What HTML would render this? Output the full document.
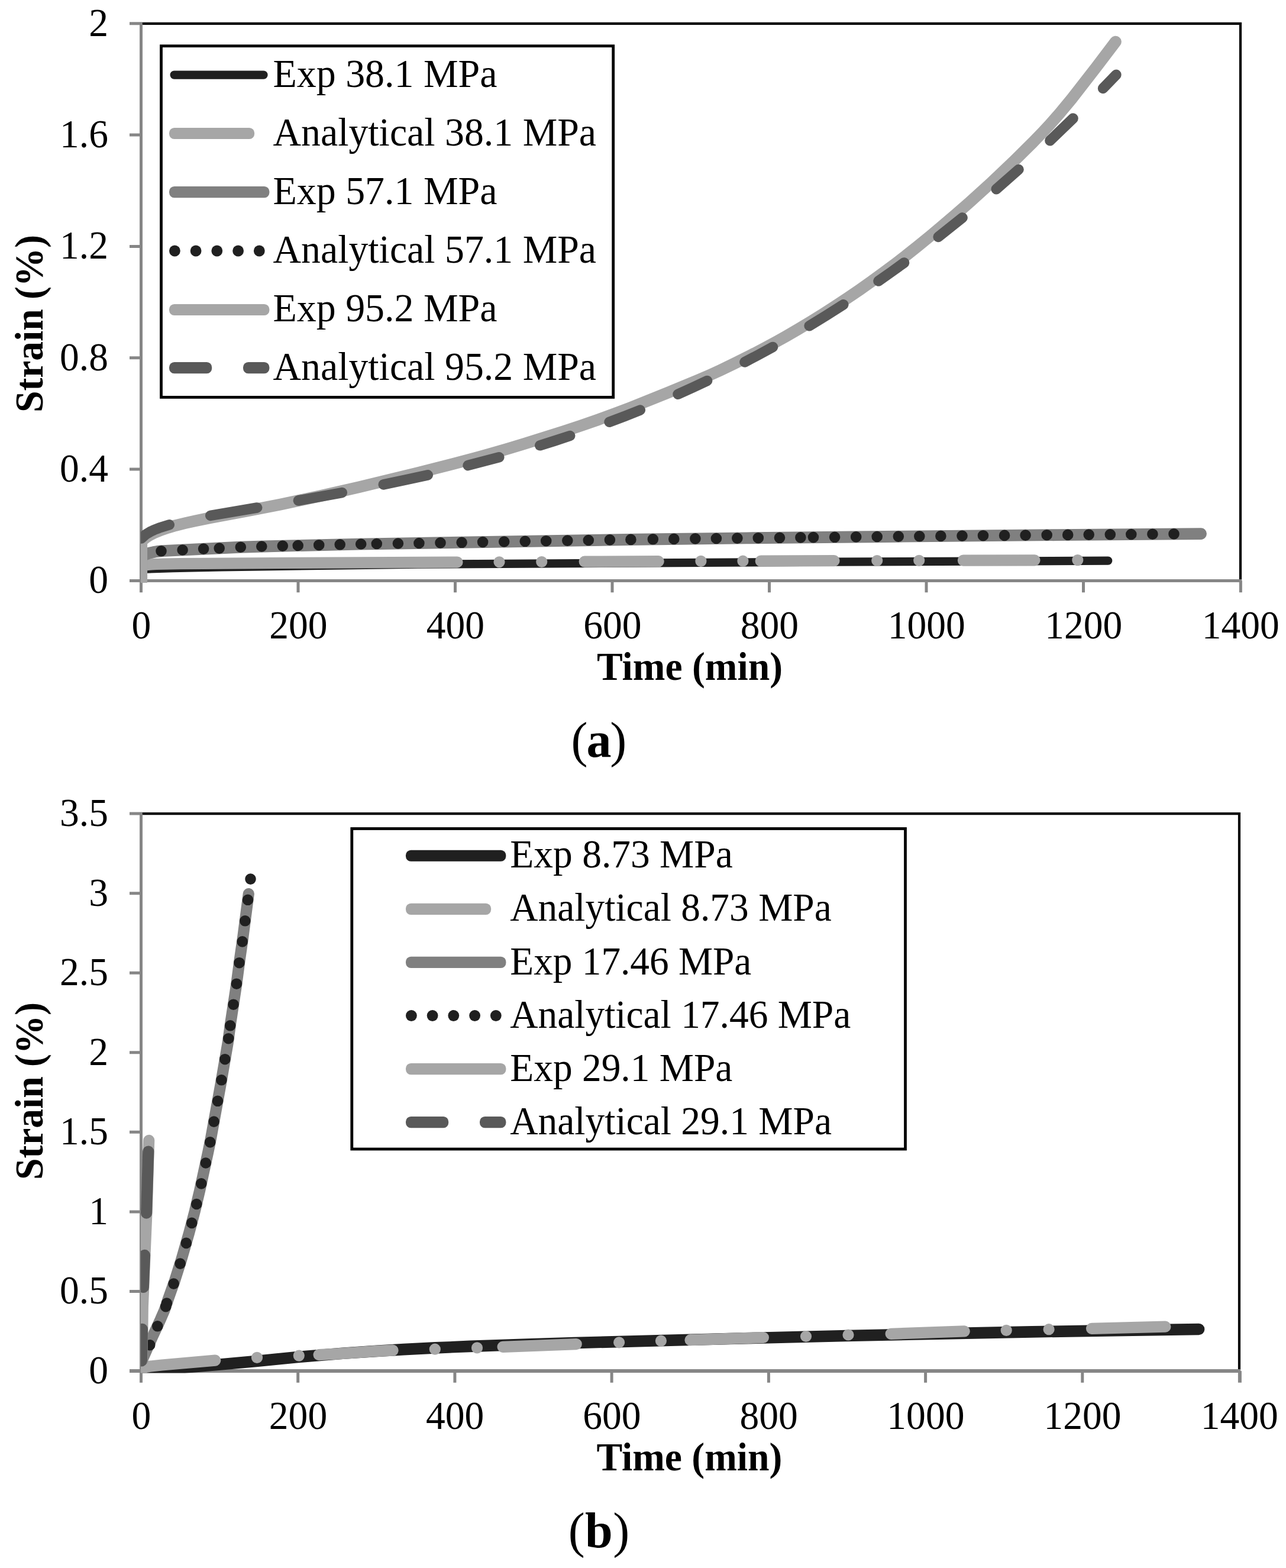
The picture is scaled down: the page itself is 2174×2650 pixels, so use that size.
<!DOCTYPE html>
<html lang="en"><head><meta charset="utf-8"><title>Creep strain vs time: experimental and analytical</title>
<style>html,body{margin:0;padding:0;background:#fff}svg{display:block}</style></head><body>
<svg width="2174" height="2650" viewBox="0 0 2174 2650" font-family="'Liberation Serif', serif" font-size="66.67" fill="#000">
<rect width="2174" height="2650" fill="#fff"/>
<defs>
<clipPath id="ca"><rect x="238" y="36.8" width="1861.5" height="948.1"/></clipPath>
<clipPath id="cb"><rect x="238" y="1372.1" width="1859.5" height="948.3"/></clipPath>
</defs>
<path d="M219 981.5 H2099.3" stroke="#868686" stroke-width="4.8" fill="none"/>
<path d="M238.5 37.2 V1001.2 M219 793.1 H238.5 M219 604.8 H238.5 M219 416.4 H238.5 M219 228.1 H238.5 M219 39.8 H238.5 M504 981.5 V1001.2 M769.5 981.5 V1001.2 M1035 981.5 V1001.2 M1300.5 981.5 V1001.2 M1566 981.5 V1001.2 M1831.5 981.5 V1001.2" stroke="#868686" stroke-width="5" fill="none"/>
<path d="M2097.4 981.5 V1001.2" stroke="#868686" stroke-width="5" fill="none"/>
<path d="M240.9 39.9 H2097 V979.1" stroke="#000" stroke-width="4.2" fill="none" stroke-linejoin="miter"/>
<g clip-path="url(#ca)" fill="none" stroke-linecap="round" stroke-linejoin="round">
<path d="M239.2 961.9 L292.4 960.1 L374.3 958.3 L636.4 954.5 L706 953.7 L1398.1 949.6 L1873.2 947.7" stroke="#202020" stroke-width="14.3"/>
<path d="M239.3 981.5 L239.3 955.6 L243.4 955.1 M239.3 955.6 L255.8 953.9 L264 953.4 L305.3 952.7 L499.1 951.4 L773 950.1 M988.2 949.2 L1113.2 948.7 M1286.2 948.1 L1410 947.7 M1628.4 947.1 L1749 946.8" stroke="#a6a6a6" stroke-width="19.2"/>
<path d="M844 949.8 L844 949.8 M915.7 949.5 L915.7 949.5 M1184.9 948.4 L1184.9 948.4 M1255.9 948.2 L1255.9 948.2 M1482.7 947.5 L1482.7 947.5 M1553.7 947.3 L1553.7 947.3 M1821.8 946.6 L1821.8 946.6" stroke="#a6a6a6" stroke-width="19.2"/>
<path d="M238.9 981.5 L238.9 941.4 L243.4 938.5 L247.9 936.2 L252.4 934.8 L261.3 932.8 L265.8 932 L274.8 931.1 L405 924.8 L454.4 923.2 L607 919.6 L1073.8 911.8 L1262.4 909.4 L1518.2 906.7 L1787.6 904.1 L2030 902.1" stroke="#808080" stroke-width="19.9"/>
<path d="M272.5 931.3 L272.5 931.3 M308.6 929.5 L308.6 929.5 M344.1 927.6 L344.1 927.6 M370.7 926.6 L370.7 926.6 M406.8 924.7 L406.8 924.7 M442.3 923.5 L442.3 923.5 M477.8 922.6 L477.8 922.6 M503.7 922 L503.7 922 M539.2 921.2 L539.2 921.2 M574.7 920.3 L574.7 920.3 M610.2 919.5 L610.2 919.5 M636.8 919 L636.8 919 M672.9 918.5 L672.9 918.5 M708.4 918 L708.4 918 M744.5 917.4 L744.5 917.4 M780.6 916.8 L780.6 916.8 M816.1 916.1 L816.1 916.1 M852.2 915.5 L852.2 915.5 M887.7 914.8 L887.7 914.8 M923.2 914.2 L923.2 914.2 M959.3 913.6 L959.3 913.6 M994.8 913 L994.8 913 M1030.9 912.4 L1030.9 912.4 M1066.4 911.9 L1066.4 911.9 M1103.8 911.3 L1103.8 911.3 M1139.3 910.9 L1139.3 910.9 M1175.4 910.4 L1175.4 910.4 M1210.9 910 L1210.9 910 M1246.3 909.6 L1246.4 909.6 M1281.8 909.2 L1281.8 909.2 M1317.9 908.8 L1318 908.8 M1353.4 908.4 L1353.4 908.4 M1375 908.1 L1375 908.1 M1411.1 907.8 L1411.1 907.8 M1447.2 907.4 L1447.2 907.4 M1482.7 907 L1482.7 907 M1518.8 906.6 L1518.8 906.6 M1554.3 906.3 L1554.3 906.3 M1590.4 905.9 L1590.4 905.9 M1626.5 905.6 L1626.5 905.6 M1662 905.2 L1662 905.2 M1698.1 904.9 L1698.1 904.9 M1733.6 904.6 L1733.6 904.6 M1769.7 904.2 L1769.7 904.2 M1805.2 903.9 L1805.2 903.9 M1840.7 903.6 L1840.7 903.6 M1876.8 903.3 L1876.8 903.3 M1912.3 903 L1912.3 903 M1948.4 902.7 L1948.4 902.7 M1984.5 902.4 L1984.5 902.4" stroke="#202020" stroke-width="18.6"/>
<path d="M239.2 981.5 L239.2 915.2 L243.3 911.2 L247.4 908 L251.5 905.2 L259.8 900.9 L272.2 895.8 L284.6 891.7 L296.9 888.1 L313.5 884 L330 880.3 L354.7 875.2 L416.6 863.8 L474.4 852.5 L544.6 837.5 L606.5 823.3 L705.5 799.4 L767.4 783.7 L800.5 774.9 L829.4 766.9 L858.2 758.5 L887.1 749.8 L953.2 729 L982.1 719.4 L1011 709.3 L1039.8 698.8 L1064.6 689.4 L1085.2 681.3 L1130.6 663 L1180.2 642.5 L1200.8 633.5 L1217.3 625.9 L1242.1 614 L1266.8 601.7 L1291.6 588.8 L1312.2 577.6 L1328.8 568.3 L1349.4 556.4 L1370 544 L1390.7 531.1 L1411.3 517.9 L1431.9 504.3 L1452.6 490.2 L1473.2 475.6 L1493.8 460.6 L1514.5 445.1 L1535.1 429.1 L1551.6 415.9 L1572.3 399.1 L1592.9 381.8 L1613.5 364.2 L1638.3 342.6 L1675.4 309 L1712.6 273.8 L1745.6 241.1 L1762.1 224 L1774.5 210.8 L1791 192 L1811.6 167.1 L1852.9 114 L1885.9 70.6" stroke="#a6a6a6" stroke-width="19.8"/>
<path d="M238.9 909.9 L244.4 904.9 L247.2 902.8 L255.4 897.9 L260.9 895.4 L269.2 892.2 L286.2 886.9 M355.8 871.4 L434.6 858 M504.4 846 L578.2 832.6 M648.3 818.9 L687.3 810.7 L723.2 802.8 M791.1 786.6 L843.7 772.8 M912.8 752.8 L937.7 745 L963.6 736.5 M1030.1 713.2 L1056 703.4 L1082.2 693.1 M1146.1 666.2 L1171.5 654.7 L1195.5 643.5 M1259 611.9 L1281.6 600 L1306.4 586.5 M1368.2 550.7 L1397.1 533 L1425.7 514.8 M1485 475 L1507.2 459.4 L1528.5 444 M1586.2 400.4 L1627 367.9 M1684.3 319.7 L1722 286.5 M1775 237.7 L1814 200.1 M1864.6 149.4 L1886.9 126.3" stroke="#595959" stroke-width="17.6"/>
</g>
<text x="183" y="1002.4" text-anchor="end" textLength="32.8" lengthAdjust="spacingAndGlyphs">0</text>
<text x="183" y="814" text-anchor="end" textLength="81.9" lengthAdjust="spacingAndGlyphs">0.4</text>
<text x="183" y="625.7" text-anchor="end" textLength="81.9" lengthAdjust="spacingAndGlyphs">0.8</text>
<text x="183" y="437.3" text-anchor="end" textLength="81.9" lengthAdjust="spacingAndGlyphs">1.2</text>
<text x="183" y="249" text-anchor="end" textLength="81.9" lengthAdjust="spacingAndGlyphs">1.6</text>
<text x="183" y="60.6" text-anchor="end" textLength="32.8" lengthAdjust="spacingAndGlyphs">2</text>
<text x="238.8" y="1079.2" text-anchor="middle" textLength="32.8" lengthAdjust="spacingAndGlyphs">0</text>
<text x="504.3" y="1079.2" text-anchor="middle" textLength="98.3" lengthAdjust="spacingAndGlyphs">200</text>
<text x="769.8" y="1079.2" text-anchor="middle" textLength="98.3" lengthAdjust="spacingAndGlyphs">400</text>
<text x="1035.3" y="1079.2" text-anchor="middle" textLength="98.3" lengthAdjust="spacingAndGlyphs">600</text>
<text x="1300.8" y="1079.2" text-anchor="middle" textLength="98.3" lengthAdjust="spacingAndGlyphs">800</text>
<text x="1566.3" y="1079.2" text-anchor="middle" textLength="131.1" lengthAdjust="spacingAndGlyphs">1000</text>
<text x="1831.8" y="1079.2" text-anchor="middle" textLength="131.1" lengthAdjust="spacingAndGlyphs">1200</text>
<text x="2097.3" y="1079.2" text-anchor="middle" textLength="131.1" lengthAdjust="spacingAndGlyphs">1400</text>
<text x="1166" y="1149.4" text-anchor="middle" font-weight="bold" textLength="314" lengthAdjust="spacingAndGlyphs">Time (min)</text>
<text transform="translate(72.4 547) rotate(-90)" text-anchor="middle" font-weight="bold" textLength="300" lengthAdjust="spacingAndGlyphs">Strain (%)</text>
<rect x="272.5" y="77.7" width="764.2" height="593.7" fill="#fff" stroke="#000" stroke-width="4.8"/>
<rect x="287.5" y="119.5" width="165.1" height="14.3" rx="7" fill="#202020"/>
<rect x="286" y="215.9" width="144.1" height="19.2" rx="8.6" fill="#a6a6a6"/>
<rect x="286" y="315" width="169.4" height="19.2" rx="8.6" fill="#808080"/>
<circle cx="295.4" cy="424" r="9.4" fill="#202020"/>
<circle cx="331.1" cy="424" r="9.4" fill="#202020"/>
<circle cx="366.8" cy="424" r="9.4" fill="#202020"/>
<circle cx="402.6" cy="424" r="9.4" fill="#202020"/>
<circle cx="438.3" cy="424" r="9.4" fill="#202020"/>
<rect x="286" y="513.9" width="169.4" height="19.2" rx="8.6" fill="#a6a6a6"/>
<rect x="286" y="612.1" width="72.2" height="19.2" rx="8.6" fill="#595959"/>
<rect x="411" y="612.1" width="44.4" height="19.2" rx="8.6" fill="#595959"/>
<text x="461.5" y="147.3" textLength="379" lengthAdjust="spacingAndGlyphs">Exp 38.1 MPa</text>
<text x="461.5" y="246.2" textLength="546.5" lengthAdjust="spacingAndGlyphs">Analytical 38.1 MPa</text>
<text x="461.5" y="345" textLength="379" lengthAdjust="spacingAndGlyphs">Exp 57.1 MPa</text>
<text x="461.5" y="443.8" textLength="546.5" lengthAdjust="spacingAndGlyphs">Analytical 57.1 MPa</text>
<text x="461.5" y="542.7" textLength="379" lengthAdjust="spacingAndGlyphs">Exp 95.2 MPa</text>
<text x="461.5" y="641.5" textLength="546.5" lengthAdjust="spacingAndGlyphs">Analytical 95.2 MPa</text>
<text x="1012.4" y="1279.4" font-size="84" text-anchor="middle" textLength="93.6" lengthAdjust="spacing">(<tspan font-weight="bold">a</tspan>)</text>
<path d="M219 2317 H2097.3" stroke="#868686" stroke-width="6" fill="none"/>
<path d="M238.5 1372.6 V2336.7 M219 2182.4 H238.5 M219 2047.9 H238.5 M219 1913.3 H238.5 M219 1778.8 H238.5 M219 1644.2 H238.5 M219 1509.7 H238.5 M219 1375.1 H238.5 M503.7 2317 V2336.7 M768.9 2317 V2336.7 M1034.1 2317 V2336.7 M1299.4 2317 V2336.7 M1564.6 2317 V2336.7 M1829.8 2317 V2336.7" stroke="#868686" stroke-width="5" fill="none"/>
<path d="M2095.9 2317 V2336.7" stroke="#868686" stroke-width="6" fill="none"/>
<path d="M240.9 1375.2 H2095 V2314" stroke="#000" stroke-width="4.2" fill="none" stroke-linejoin="miter"/>
<g clip-path="url(#cb)" fill="none" stroke-linecap="round" stroke-linejoin="round">
<path d="M238.5 2317 L301.2 2312.1 L364 2306.8 L435.7 2300.3 L498.4 2293.9 L579.1 2287.3 L632.9 2283.6 L682.2 2280.6 L735.9 2277.9 L794.2 2275.4 L883.8 2272.2 L969 2269.6 L1260.3 2261.8 L1430.6 2257.5 L1596.4 2253.9 L1744.3 2250.9 L1883.2 2248.6 L2026.6 2246.5" stroke="#202020" stroke-width="19.6"/>
<path d="M239 2311.5 L252 2309.4 L273.7 2307 L363.7 2299.1 M539.1 2289.7 L568.7 2288.1 L633.8 2283.6 L664 2282.2 M850.1 2276.3 L974.2 2271.6 M1167 2264.7 L1290.4 2260.5 M1506.1 2254.3 L1630.2 2249.9 M1845.5 2245.3 L1969.9 2242.2" stroke="#a6a6a6" stroke-width="19.2"/>
<path d="M434.5 2294.4 L434.5 2294.4 M505.3 2291.1 L505.3 2291.1 M735.3 2280.2 L735.3 2280.2 M806.5 2277.9 L806.5 2277.9 M1046.6 2268.8 L1046.6 2268.8 M1117.4 2266.1 L1117.4 2266.1 M1362.5 2258.5 L1362.5 2258.5 M1434 2256 L1434 2256 M1701.2 2248.4 L1701.2 2248.4 M1773.1 2246.7 L1773.1 2246.7" stroke="#a6a6a6" stroke-width="19.2"/>
<path d="M420.3 1510.5 L410.5 1585.6 L404.7 1625.8 L399.8 1663.3 L390 1727.6 L385.2 1762.5 L373.2 1832.2 L356.1 1926 L351.7 1947.4 L337.7 2011.8 L329.4 2046.6 L319.5 2084.1 L306.4 2129.7 L295.3 2164.6 L283.9 2196.7 L280.4 2207.5 L277.5 2215.5 L271.7 2228.9 L256.9 2261.1 L242.8 2293.2 L240.6 2298.6 L239.9 2301.3 L237.5 2312" stroke="#808080" stroke-width="19.2"/>
<path d="M253.2 2273.2 L253.2 2273.2 M266.3 2241.3 L266.3 2241.3 M280.2 2208.2 L280.2 2208.2 M281.9 2202.6 L281.9 2202.6 M293.6 2169.6 L293.6 2169.6 M304.6 2135.6 L304.6 2135.6 M314.8 2100.9 L314.8 2100.9 M324.2 2066.9 L324.2 2066.9 M332.3 2035 L332.3 2035 M340.3 2000.4 L340.3 2000.4 M347.8 1965.5 L347.8 1965.5 M355.2 1930.4 L355.2 1930.4 M361.6 1895.6 L361.6 1895.6 M368 1860.8 L368 1860.8 M374.4 1825.3 L374.4 1825.3 M380.3 1790.2 L380.3 1790.2 M386.3 1755.2 L386.3 1755.2 M389.2 1733.3 L389.2 1733.3 M394.6 1697.7 L394.6 1697.7 M399.9 1662.7 L399.9 1662.7 M404.5 1627.2 L404.5 1627.2 M409.7 1591.4 L409.7 1591.4 M414.3 1556.3 L414.3 1556.3 M419 1520.8 L419 1520.8 M423.5 1485.6 L423.5 1485.6" stroke="#202020" stroke-width="18.6"/>
<path d="M239.4 2317 L240.9 2240 L241.3 2208 L247.9 2050 L251.7 1927.4" stroke="#a6a6a6" stroke-width="19.2"/>
<path d="M239.4 2299.8 L240.5 2246.4 M242.3 2175.5 L244.5 2121.4 M247.6 2050.1 L250.8 1946" stroke="#595959" stroke-width="19.2"/>
</g>
<text x="183" y="2337.9" text-anchor="end" textLength="32.8" lengthAdjust="spacingAndGlyphs">0</text>
<text x="183" y="2203.3" text-anchor="end" textLength="81.9" lengthAdjust="spacingAndGlyphs">0.5</text>
<text x="183" y="2068.8" text-anchor="end" textLength="32.8" lengthAdjust="spacingAndGlyphs">1</text>
<text x="183" y="1934.2" text-anchor="end" textLength="81.9" lengthAdjust="spacingAndGlyphs">1.5</text>
<text x="183" y="1799.7" text-anchor="end" textLength="32.8" lengthAdjust="spacingAndGlyphs">2</text>
<text x="183" y="1665.1" text-anchor="end" textLength="81.9" lengthAdjust="spacingAndGlyphs">2.5</text>
<text x="183" y="1530.6" text-anchor="end" textLength="32.8" lengthAdjust="spacingAndGlyphs">3</text>
<text x="183" y="1396" text-anchor="end" textLength="81.9" lengthAdjust="spacingAndGlyphs">3.5</text>
<text x="238.8" y="2414.7" text-anchor="middle" textLength="32.8" lengthAdjust="spacingAndGlyphs">0</text>
<text x="504" y="2414.7" text-anchor="middle" textLength="98.3" lengthAdjust="spacingAndGlyphs">200</text>
<text x="769.2" y="2414.7" text-anchor="middle" textLength="98.3" lengthAdjust="spacingAndGlyphs">400</text>
<text x="1034.4" y="2414.7" text-anchor="middle" textLength="98.3" lengthAdjust="spacingAndGlyphs">600</text>
<text x="1299.7" y="2414.7" text-anchor="middle" textLength="98.3" lengthAdjust="spacingAndGlyphs">800</text>
<text x="1564.9" y="2414.7" text-anchor="middle" textLength="131.1" lengthAdjust="spacingAndGlyphs">1000</text>
<text x="1830.1" y="2414.7" text-anchor="middle" textLength="131.1" lengthAdjust="spacingAndGlyphs">1200</text>
<text x="2095.3" y="2414.7" text-anchor="middle" textLength="131.1" lengthAdjust="spacingAndGlyphs">1400</text>
<text x="1165.4" y="2484.9" text-anchor="middle" font-weight="bold" textLength="314" lengthAdjust="spacingAndGlyphs">Time (min)</text>
<text transform="translate(72.4 1844) rotate(-90)" text-anchor="middle" font-weight="bold" textLength="300" lengthAdjust="spacingAndGlyphs">Strain (%)</text>
<rect x="594.8" y="1400.5" width="935.7" height="541.5" fill="#fff" stroke="#000" stroke-width="4.8"/>
<rect x="686" y="1436.7" width="169.3" height="19.1" rx="8.6" fill="#202020"/>
<rect x="686" y="1526.7" width="144.1" height="19.2" rx="8.6" fill="#a6a6a6"/>
<rect x="686" y="1616.8" width="169.4" height="19.2" rx="8.6" fill="#808080"/>
<circle cx="695.4" cy="1716.5" r="9.4" fill="#202020"/>
<circle cx="731.1" cy="1716.5" r="9.4" fill="#202020"/>
<circle cx="766.8" cy="1716.5" r="9.4" fill="#202020"/>
<circle cx="802.6" cy="1716.5" r="9.4" fill="#202020"/>
<circle cx="838.3" cy="1716.5" r="9.4" fill="#202020"/>
<rect x="686" y="1797" width="169.4" height="19.2" rx="8.6" fill="#a6a6a6"/>
<rect x="686" y="1887.1" width="72.2" height="19.2" rx="8.6" fill="#595959"/>
<rect x="811" y="1887.1" width="44.4" height="19.2" rx="8.6" fill="#595959"/>
<text x="862.3" y="1466.1" textLength="376.5" lengthAdjust="spacingAndGlyphs">Exp 8.73 MPa</text>
<text x="862.3" y="1556.3" textLength="543.5" lengthAdjust="spacingAndGlyphs">Analytical 8.73 MPa</text>
<text x="862.3" y="1646.5" textLength="408" lengthAdjust="spacingAndGlyphs">Exp 17.46 MPa</text>
<text x="862.3" y="1736.7" textLength="576" lengthAdjust="spacingAndGlyphs">Analytical 17.46 MPa</text>
<text x="862.3" y="1826.9" textLength="376" lengthAdjust="spacingAndGlyphs">Exp 29.1 MPa</text>
<text x="862.3" y="1917.1" textLength="543.7" lengthAdjust="spacingAndGlyphs">Analytical 29.1 MPa</text>
<text x="1012.4" y="2615.4" font-size="84" text-anchor="middle" textLength="103.5" lengthAdjust="spacing">(<tspan font-weight="bold">b</tspan>)</text>
</svg></body></html>
